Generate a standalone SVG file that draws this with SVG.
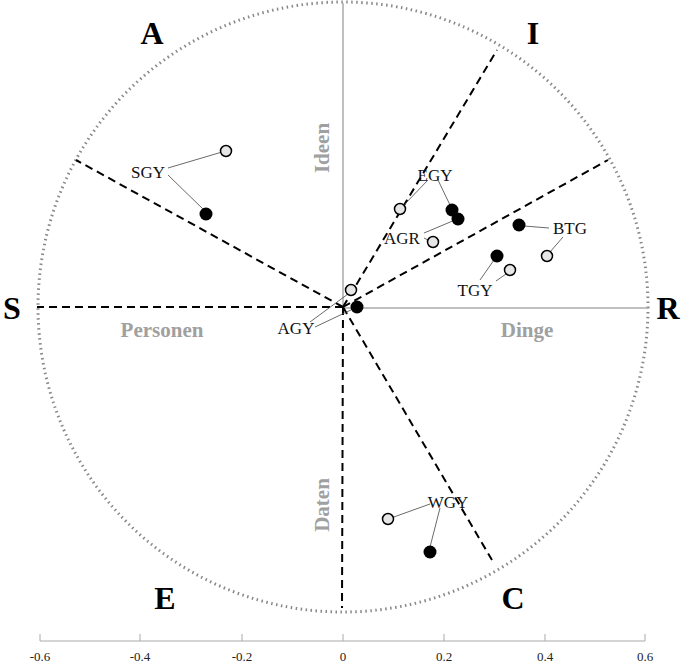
<svg xmlns="http://www.w3.org/2000/svg" width="685" height="663" viewBox="0 0 685 663">
<style>
.big{font-family:"Liberation Serif",serif;font-weight:bold;font-size:32px;fill:#000;text-anchor:middle}
.gl{font-family:"Liberation Serif",serif;font-weight:bold;font-size:21px;fill:#a0a0a0;text-anchor:middle}
.lb{font-family:"Liberation Serif",serif;font-size:17px;fill:#111;text-anchor:middle}
.tk{font-family:"Liberation Serif",serif;font-size:13px;fill:#222;text-anchor:middle}
.op{fill:#e6e6e6;stroke:#000;stroke-width:1.5}
.fi{fill:#000}
.ld{stroke:#444;stroke-width:0.8}
.ds{stroke:#000;stroke-width:2;stroke-dasharray:8,5;fill:none}
</style>
<rect width="685" height="663" fill="#fff"/>
<g id="frame">
<circle cx="343" cy="307" r="305" fill="none" stroke="#888" stroke-width="3" stroke-dasharray="1.5,3.5"/>
<line x1="343" y1="3" x2="343" y2="308" stroke="#aaa" stroke-width="1.5"/>
<line x1="343" y1="308" x2="648" y2="308" stroke="#aaa" stroke-width="1.5"/>
<line x1="40" y1="641" x2="645" y2="641" stroke="#aaa" stroke-width="1"/>
<g stroke="#aaa"><line x1="40" y1="634" x2="40" y2="641"/><line x1="140" y1="634" x2="140" y2="641"/><line x1="242" y1="634" x2="242" y2="641"/><line x1="343" y1="634" x2="343" y2="641"/><line x1="444" y1="634" x2="444" y2="641"/><line x1="545" y1="634" x2="545" y2="641"/><line x1="645" y1="634" x2="645" y2="641"/></g>
<text class="tk" x="40" y="661">-0.6</text><text class="tk" x="140" y="661">-0.4</text><text class="tk" x="242" y="661">-0.2</text><text class="tk" x="343" y="661">0</text><text class="tk" x="444" y="661">0.2</text><text class="tk" x="545" y="661">0.4</text><text class="tk" x="645" y="661">0.6</text>
</g>
<g id="connectors">
<line class="ds" x1="343" y1="307" x2="497" y2="50"/>
<line class="ds" x1="343" y1="307" x2="608" y2="160"/>
<line class="ds" x1="343" y1="307" x2="76" y2="160"/>
<line class="ds" x1="343" y1="307" x2="37" y2="307"/>
<line class="ds" x1="343" y1="307" x2="342" y2="608"/>
<line class="ds" x1="343" y1="307" x2="492" y2="560"/>
<line class="ld" x1="168" y1="168" x2="222" y2="152"/>
<line class="ld" x1="168" y1="175" x2="204" y2="210"/>
<line class="ld" x1="428" y1="180" x2="403" y2="206"/>
<line class="ld" x1="438" y1="180" x2="450" y2="205"/>
<line class="ld" x1="424" y1="233" x2="455" y2="220"/>
<line class="ld" x1="424" y1="238" x2="428" y2="240"/>
<line class="ld" x1="524" y1="226" x2="549" y2="228"/>
<line class="ld" x1="563" y1="237" x2="550" y2="252"/>
<line class="ld" x1="480" y1="280" x2="494" y2="260"/>
<line class="ld" x1="496" y1="281" x2="506" y2="274"/>
<line class="ld" x1="310" y1="322" x2="348" y2="294"/>
<line class="ld" x1="315" y1="327" x2="353" y2="309"/>
<line class="ld" x1="430" y1="504" x2="391" y2="518"/>
<line class="ld" x1="440" y1="508" x2="430" y2="547"/>
</g>
<g id="labels">
<text class="big" x="152" y="44">A</text><text class="big" x="533" y="44">I</text>
<text class="big" x="12" y="319">S</text><text class="big" x="668" y="319">R</text>
<text class="big" x="165" y="609">E</text><text class="big" x="513" y="609">C</text>
<text class="gl" x="162" y="337">Personen</text><text class="gl" x="527" y="337">Dinge</text>
<text class="gl" transform="translate(329,148) rotate(-90)">Ideen</text>
<text class="gl" transform="translate(329,505) rotate(-90)">Daten</text>
</g>
<g id="SGY"><text class="lb" x="148" y="178">SGY</text><circle class="op" cx="226" cy="151" r="5.5"/><circle class="fi" cx="206" cy="214" r="6.5"/></g>
<g id="EGY"><text class="lb" x="435" y="181">EGY</text><circle class="op" cx="400" cy="209" r="5.5"/><circle class="fi" cx="452" cy="210" r="6.5"/><circle class="fi" cx="458" cy="219" r="6.5"/></g>
<g id="AGR"><text class="lb" x="402" y="244">AGR</text><circle class="op" cx="433" cy="242" r="5.5"/></g>
<g id="BTG"><text class="lb" x="570" y="234">BTG</text><circle class="fi" cx="519" cy="225" r="6.5"/><circle class="op" cx="547" cy="256" r="5.5"/></g>
<g id="TGY"><text class="lb" x="475" y="296">TGY</text><circle class="fi" cx="497" cy="256" r="6.5"/><circle class="op" cx="510" cy="270" r="5.5"/></g>
<g id="AGY"><text class="lb" x="296" y="334">AGY</text><circle class="op" cx="351" cy="290" r="5.5"/><circle class="fi" cx="357" cy="307" r="6.5"/></g>
<g id="WGY"><text class="lb" x="448" y="508">WGY</text><circle class="op" cx="388" cy="519" r="5.5"/><circle class="fi" cx="430" cy="552" r="6.5"/></g>
</svg>
